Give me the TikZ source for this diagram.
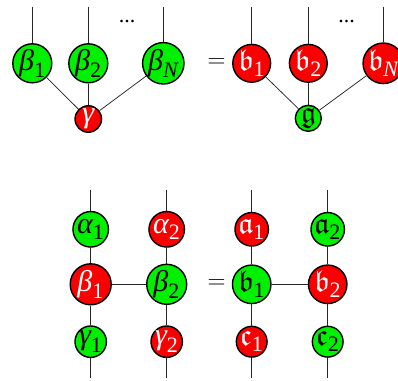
\documentclass[tikz,border=0pt]{standalone}
\usepackage{amsmath,amssymb}
\usepackage{fontspec}
\setmainfont{Liberation Serif}
\DeclareMathSizes{30}{30}{22}{16}
\newcommand{\gk}[1]{\text{\itshape #1}}
\newcommand{\sbt}[1]{\text{\upshape #1}}
\begin{document}
\begin{tikzpicture}[x=1pt,y=-1pt]
\useasboundingbox (0,0) rectangle (398,380);
\tikzset{
  vert/.style={circle,draw=black,line width=1.4pt,inner sep=0pt,font=\fontsize{30}{34}\selectfont},
  gn/.style={vert,fill={rgb,255:red,0;green,240;blue,0},text=black},
  rn/.style={vert,fill={rgb,255:red,250;green,0;blue,0},text=white},
  wire/.style={draw=black!85,line width=0.75pt},
  lbl/.style={inner sep=0pt,font=\fontsize{30}{34}\selectfont},
  dotlbl/.style={inner sep=0pt,font=\fontsize{22}{26}\selectfont}
}
% ---------- top left ----------
\node[gn,minimum size=39pt] (tb1) at (32.3,63.3) {$\gk{β}_{\sbt{1}}$};
\node[gn,minimum size=39pt] (tb2) at (88.3,63.3) {$\gk{β}_{\sbt{2}}$};
\node[gn,minimum size=39pt] (tbN) at (163.3,63.3) {$\gk{β}_{\gk{N}}$};
\node[rn,minimum size=26.5pt] (tg) at (88.3,119) {$\gk{γ}$};
\coordinate (u1) at (32.3,7);
\coordinate (u2) at (88.3,7);
\coordinate (uN) at (163.3,7);
\draw[wire] (u1) -- (tb1);
\draw[wire] (u2) -- (tb2);
\draw[wire] (uN) -- (tbN);
\draw[wire] (tb1) -- (tg);
\draw[wire] (tb2) -- (tg);
\draw[wire] (tbN) -- (tg);
\node[dotlbl] (d1) at (127,22) {...};
\node[lbl] (eq1) at (216.7,63.3) {$=$};
% ---------- top right ----------
\node[rn,minimum size=37.5pt] (sb1) at (251.7,63.3) {$\mathfrak{b}_{\sbt{1}}$};
\node[rn,minimum size=37.5pt] (sb2) at (308.3,63.3) {$\mathfrak{b}_{\sbt{2}}$};
\node[rn,minimum size=37.5pt] (sbN) at (383.3,63.3) {$\mathfrak{b}_{\gk{N}}$};
\node[gn,minimum size=26pt] (sg) at (308.3,118.3) {$\mathfrak{g}$};
\coordinate (v1) at (251.7,7);
\coordinate (v2) at (308.3,7);
\coordinate (vN) at (383.3,7);
\draw[wire] (v1) -- (sb1);
\draw[wire] (v2) -- (sb2);
\draw[wire] (vN) -- (sbN);
\draw[wire] (sb1) -- (sg);
\draw[wire] (sb2) -- (sg);
\draw[wire] (sbN) -- (sg);
\node[dotlbl] (d2) at (346.7,22) {...};
% ---------- bottom left ----------
\node[gn,minimum size=35.5pt] (la1) at (90.7,229.3) {$\gk{α}_{\sbt{1}}$};
\node[rn,minimum size=35.5pt] (la2) at (166.7,229.3) {$\gk{α}_{\sbt{2}}$};
\node[rn,minimum size=41pt] (lb1) at (90.7,284.3) {$\gk{β}_{\sbt{1}}$};
\node[gn,minimum size=40pt] (lb2) at (166.7,284.3) {$\gk{β}_{\sbt{2}}$};
\node[gn,minimum size=31pt] (lc1) at (90.7,341.7) {$\gk{γ}_{\sbt{1}}$};
\node[rn,minimum size=31pt] (lc2) at (166.7,341.7) {$\gk{γ}_{\sbt{2}}$};
\coordinate (lt1) at (90.7,190);
\coordinate (lt2) at (166.7,190);
\coordinate (lo1) at (90.7,378);
\coordinate (lo2) at (166.7,378);
\draw[wire] (lt1) -- (la1);
\draw[wire] (la1) -- (lb1);
\draw[wire] (lb1) -- (lc1);
\draw[wire] (lc1) -- (lo1);
\draw[wire] (lt2) -- (la2);
\draw[wire] (la2) -- (lb2);
\draw[wire] (lb2) -- (lc2);
\draw[wire] (lc2) -- (lo2);
\draw[wire] (lb1) -- (lb2);
\node[lbl] (eq2) at (216.7,284.3) {$=$};
% ---------- bottom right ----------
\node[rn,minimum size=33.5pt] (ra1) at (251.7,229.3) {$\mathfrak{a}_{\sbt{1}}$};
\node[gn,minimum size=33.5pt] (ra2) at (327.7,229.3) {$\mathfrak{a}_{\sbt{2}}$};
\node[gn,minimum size=38.5pt] (rb1) at (251.7,284.3) {$\mathfrak{b}_{\sbt{1}}$};
\node[rn,minimum size=38.5pt] (rb2) at (327.7,284.3) {$\mathfrak{b}_{\sbt{2}}$};
\node[rn,minimum size=30.6pt] (rc1) at (251.7,341.7) {$\mathfrak{c}_{\sbt{1}}$};
\node[gn,minimum size=30.6pt] (rc2) at (327.7,341.7) {$\mathfrak{c}_{\sbt{2}}$};
\coordinate (rt1) at (251.7,190);
\coordinate (rt2) at (327.7,190);
\coordinate (ro1) at (251.7,378);
\coordinate (ro2) at (327.7,378);
\draw[wire] (rt1) -- (ra1);
\draw[wire] (ra1) -- (rb1);
\draw[wire] (rb1) -- (rc1);
\draw[wire] (rc1) -- (ro1);
\draw[wire] (rt2) -- (ra2);
\draw[wire] (ra2) -- (rb2);
\draw[wire] (rb2) -- (rc2);
\draw[wire] (rc2) -- (ro2);
\draw[wire] (rb1) -- (rb2);
\end{tikzpicture}
\end{document}
